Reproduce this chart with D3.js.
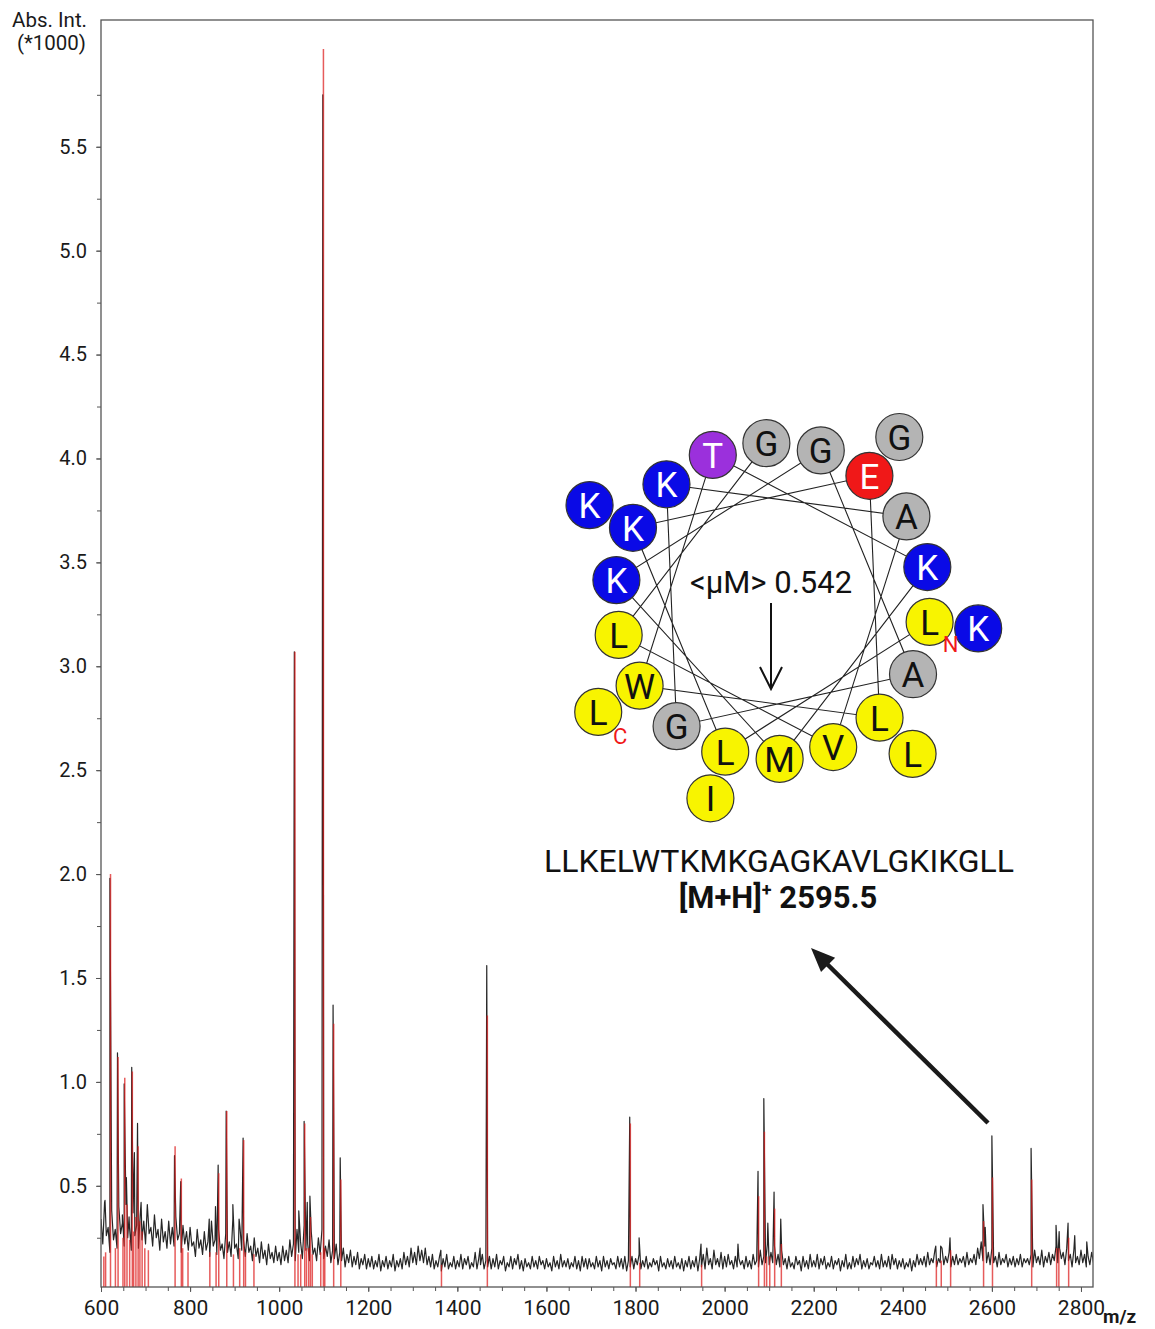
<!DOCTYPE html>
<html><head><meta charset="utf-8">
<script src="https://cdn.jsdelivr.net/npm/d3@7"></script>
<style>
html,body{margin:0;padding:0;background:#fff;}
svg{display:block;font-family:Roboto,"Liberation Sans",Arial,sans-serif;}
</style></head><body>
<svg id="chart" width="1155" height="1329"></svg>
<script>
// ---------------- DATA ----------------
const mzStart = 600, mzStep = 8;
// noise maxima of the measured spectrum (black trace), at m/z 600, 608, 616 ...
const noiseHigh = [
0.34,0.42,0.30,0.38,0.29,0.40,0.32,0.41,0.30,0.37,
0.31,0.36,0.33,0.41,0.30,0.36,0.29,0.34,0.28,0.33,
0.30,0.35,0.27,0.31,0.28,0.30,0.23,0.29,0.24,0.28,
0.23,0.33,0.24,0.29,0.22,0.27,0.23,0.34,0.22,0.30,
0.24,0.27,0.21,0.25,0.20,0.23,0.19,0.22,0.18,0.21,
0.18,0.21,0.19,0.24,0.22,0.29,0.23,0.31,0.22,0.28,
0.20,0.25,0.29,0.21,0.24,0.19,0.22,0.18,0.20,0.17,
0.19,0.16,0.18,0.15,0.17,0.15,0.16,0.14,0.17,0.14,
0.16,0.14,0.17,0.14,0.15,0.18,0.16,0.20,0.18,0.21,
0.19,0.20,0.16,0.17,0.14,0.16,0.15,0.17,0.13,0.16,
0.14,0.17,0.15,0.16,0.13,0.18,0.15,0.17,0.14,0.16,
0.15,0.17,0.14,0.16,0.13,0.16,0.15,0.17,0.14,0.15,
0.13,0.16,0.14,0.16,0.14,0.15,0.13,0.16,0.14,0.17,
0.14,0.15,0.13,0.16,0.14,0.16,0.15,0.15,0.13,0.16,
0.14,0.16,0.14,0.15,0.13,0.16,0.15,0.16,0.14,0.16,
0.15,0.17,0.14,0.16,0.13,0.15,0.14,0.16,0.13,0.15,
0.14,0.16,0.13,0.15,0.14,0.16,0.14,0.16,0.15,0.17,
0.20,0.15,0.19,0.15,0.18,0.16,0.17,0.14,0.16,0.15,
0.14,0.16,0.14,0.17,0.14,0.19,0.16,0.22,0.18,0.21,
0.17,0.19,0.15,0.16,0.13,0.16,0.14,0.16,0.14,0.17,
0.14,0.17,0.15,0.16,0.13,0.16,0.14,0.15,0.14,0.17,
0.13,0.16,0.15,0.17,0.14,0.15,0.13,0.16,0.14,0.17,
0.14,0.16,0.17,0.15,0.14,0.15,0.13,0.15,0.14,0.17,
0.15,0.16,0.18,0.15,0.19,0.15,0.20,0.16,0.18,0.16,
0.17,0.15,0.16,0.18,0.15,0.17,0.20,0.23,0.21,0.18,
0.20,0.16,0.18,0.15,0.17,0.15,0.16,0.15,0.17,0.15,
0.15,0.17,0.19,0.16,0.19,0.16,0.18,0.17,0.21,0.20,
0.18,0.20,0.17,0.19,0.16,0.19,0.17,0.16,0.18
];
// noise minima, at m/z 604, 612, 620 ...
const noiseLow = [
0.22,0.26,0.18,0.24,0.20,0.27,0.21,0.25,0.19,0.26,
0.20,0.24,0.22,0.27,0.21,0.25,0.19,0.23,0.20,0.22,
0.21,0.24,0.18,0.22,0.19,0.21,0.16,0.20,0.17,0.19,
0.16,0.21,0.17,0.19,0.15,0.18,0.16,0.20,0.15,0.19,
0.16,0.18,0.14,0.16,0.13,0.15,0.12,0.15,0.13,0.14,
0.12,0.14,0.13,0.16,0.14,0.18,0.15,0.19,0.14,0.17,
0.14,0.17,0.15,0.16,0.13,0.15,0.12,0.14,0.11,0.13,
0.11,0.12,0.10,0.12,0.10,0.11,0.10,0.11,0.09,0.11,
0.10,0.11,0.09,0.11,0.10,0.12,0.11,0.13,0.12,0.14,
0.13,0.12,0.11,0.10,0.11,0.09,0.11,0.10,0.11,0.10,
0.11,0.10,0.12,0.10,0.11,0.10,0.12,0.10,0.11,0.10,
0.11,0.10,0.12,0.09,0.11,0.10,0.12,0.10,0.09,0.11,
0.10,0.11,0.10,0.12,0.10,0.11,0.09,0.11,0.10,0.11,
0.11,0.10,0.11,0.10,0.09,0.11,0.10,0.11,0.10,0.11,
0.09,0.11,0.10,0.12,0.10,0.11,0.10,0.09,0.11,0.10,
0.12,0.10,0.11,0.10,0.11,0.12,0.09,0.11,0.10,0.11,
0.10,0.11,0.10,0.09,0.11,0.10,0.11,0.09,0.11,0.10,
0.12,0.10,0.12,0.11,0.10,0.11,0.12,0.10,0.11,0.12,
0.10,0.11,0.10,0.12,0.11,0.12,0.13,0.12,0.13,0.12,
0.11,0.12,0.10,0.11,0.10,0.12,0.09,0.11,0.10,0.11,
0.11,0.10,0.12,0.10,0.11,0.10,0.12,0.09,0.11,0.10,
0.10,0.11,0.12,0.10,0.11,0.10,0.12,0.11,0.10,0.11,
0.11,0.10,0.12,0.10,0.11,0.10,0.11,0.09,0.11,0.12,
0.12,0.11,0.12,0.13,0.11,0.13,0.12,0.13,0.11,0.12,
0.12,0.13,0.11,0.12,0.13,0.12,0.15,0.14,0.13,0.12,
0.13,0.11,0.12,0.13,0.11,0.12,0.11,0.12,0.11,0.13,
0.12,0.11,0.13,0.12,0.11,0.13,0.12,0.14,0.13,0.15,
0.12,0.14,0.11,0.13,0.12,0.13,0.11,0.12,0.13
];
// peaks of the measured spectrum (black trace)
const peakMz  = [609,620,637,648,652,657,663,669,675,682, 690,765,779,843,857,863,881,896,910,919,
                 1034,1044,1056,1063,1069,1098,1121,1137,1363,1451, 1466,1787,1808,1947,2030,2075,2088,2097,2111,2126,
                 2474,2485,2506,2580,2585,2600,2688,2744,2751,2771, 2786,2813];
const peakInt = [0.43,1.98,1.14,0.36,0.99,0.54,0.35,1.07,0.66,0.80, 0.42,0.645,0.52,0.34,0.40,0.60,0.86,0.41,0.34,0.73,
                 3.07,0.38,0.81,0.42,0.45,5.75,1.37,0.635,0.19,0.20, 1.56,0.83,0.25,0.22,0.22,0.57,0.92,0.32,0.47,0.34,
                 0.21,0.21,0.25,0.41,0.30,0.74,0.68,0.31,0.28,0.32, 0.26,0.23];
// peak list sticks (red)
const stickMz  = [605,609,620,631,637,648,652,657,663,669, 672,677,682,686,691,697,705,765,779,782,
                  794,843,857,863,881,896,910,919,923,942, 1034,1041,1047,1056,1060,1065,1069,1073,1092,1098,
                  1101,1121,1137,1363,1466,1787,1808,1947,2075,2088, 2093,2100,2111,2126,2474,2485,2506,2580,2600,2688,
                  2744,2749,2771];
const stickInt = [0.16,0.18,2.00,0.20,1.12,0.25,1.02,0.41,0.24,1.05, 0.28,0.35,0.69,0.33,0.28,0.20,0.19,0.69,0.535,0.20,
                  0.18,0.18,0.18,0.56,0.86,0.17,0.20,0.72,0.18,0.17, 3.07,0.17,0.17,0.80,0.20,0.20,0.35,0.17,0.18,5.97,
                  0.20,1.28,0.53,0.12,1.32,0.80,0.13,0.12,0.45,0.76, 0.16,0.16,0.39,0.22,0.14,0.14,0.19,0.33,0.54,0.53,
                  0.20,0.20,0.25];
const xTicks = [600,800,1000,1200,1400,1600,1800,2000,2200,2400,2600,2800];
const yTicks = [0.5,1.0,1.5,2.0,2.5,3.0,3.5,4.0,4.5,5.0,5.5];
const yLabel = ["Abs. Int.", "(*1000)"];
const xLabel = "m/z";
const sequence = "LLKELWTKMKGAGKAVLGKIKGLL";
const moment = "<μM> 0.542";
const massText = "2595.5";

// ---------------- CHART ----------------
const svg = d3.select("#chart");
const L = 101, T = 20, R = 1093, B = 1287;
const x = d3.scaleLinear().domain([600, 2827]).range([L, R]);
const y = d3.scaleLinear().domain([0.013, 6.11]).range([B, T]);

svg.append("defs").append("clipPath").attr("id","plotclip")
  .append("rect").attr("x",L).attr("y",T).attr("width",R-L).attr("height",B-T);

// black trace: noise maxima/minima merged with peak apexes
const trace = noiseHigh.map((v,i)=>({mz: mzStart + i*mzStep, v}))
  .concat(noiseLow.map((v,i)=>({mz: mzStart + mzStep/2 + i*mzStep, v})))
  .concat(peakMz.map((m,i)=>({mz:m, v:peakInt[i]})))
  .sort((a,b)=>a.mz-b.mz);

const plot = svg.append("g").attr("clip-path","url(#plotclip)");
plot.append("path").datum(trace)
  .attr("fill","none").attr("stroke","#262626").attr("stroke-width",1.2)
  .attr("stroke-linejoin","round")
  .attr("d", d3.line().x(d=>x(d.mz)).y(d=>y(d.v)));

plot.append("g").selectAll("line").data(stickMz.map((m,i)=>({mz:m,v:stickInt[i]})))
  .join("line")
  .attr("x1",d=>x(d.mz)+0.6).attr("x2",d=>x(d.mz)+0.6)
  .attr("y1",B).attr("y2",d=>y(d.v))
  .attr("stroke","#dc1c1c").attr("stroke-opacity",0.72).attr("stroke-width",1.5);

// frame
svg.append("rect").attr("x",L).attr("y",T).attr("width",R-L).attr("height",B-T)
  .attr("fill","none").attr("stroke","#555").attr("stroke-width",1.3);

// y axis
const yMinor = d3.range(0.25, 5.8, 0.25);
svg.append("g").attr("transform",`translate(${L},0)`)
  .call(d3.axisLeft(y).tickValues(yMinor).tickSize(4).tickFormat(""))
  .call(g=>g.select(".domain").remove())
  .call(g=>g.selectAll("line").attr("stroke","#555"));
svg.append("g").attr("transform",`translate(${L},0)`)
  .call(d3.axisLeft(y).tickValues(yTicks).tickSize(5).tickPadding(9).tickFormat(d3.format(".1f")))
  .call(g=>g.select(".domain").remove())
  .call(g=>g.selectAll("line").attr("stroke","#555"))
  .call(g=>g.selectAll("text").attr("font-size",20).attr("fill","#1a1a1a").attr("font-family","Roboto"));

// x axis
const xMinor = d3.range(650, 2827, 50);
svg.append("g").attr("transform",`translate(0,${B})`)
  .call(d3.axisBottom(x).tickValues(xMinor).tickSize(4).tickFormat(""))
  .call(g=>g.select(".domain").remove())
  .call(g=>g.selectAll("line").attr("stroke","#555"));
svg.append("g").attr("transform",`translate(0,${B})`)
  .call(d3.axisBottom(x).tickValues(xTicks).tickSize(5).tickPadding(8).tickFormat(d3.format("d")))
  .call(g=>g.select(".domain").remove())
  .call(g=>g.selectAll("line").attr("stroke","#555"))
  .call(g=>g.selectAll("text").attr("font-size",21).attr("fill","#1a1a1a").attr("font-family","Roboto"));

// axis titles
svg.append("text").attr("x",87).attr("y",27).attr("text-anchor","end")
  .attr("font-size",20.5).attr("fill","#1a1a1a").text(yLabel[0]);
svg.append("text").attr("x",86).attr("y",50).attr("text-anchor","end")
  .attr("font-size",20.5).attr("fill","#1a1a1a").text(yLabel[1]);
svg.append("text").attr("x",1103).attr("y",1323)
  .attr("font-size",19).attr("font-weight","bold").attr("fill","#1a1a1a").text(xLabel);

// ---------------- HELICAL WHEEL ----------------
const wc = {x:773, y:601}, rIn = 158, rOut = 207, a0 = 7.6, step = 100, rc = 23.5;
const fillOf = aa => ({K:"#0a0ae6", E:"#f01818", T:"#9b30dc", G:"#b4b4b4", A:"#b4b4b4"})[aa] || "#f8f400";
const textOf = aa => ("KET".includes(aa) ? "#fff" : "#111");
const res = sequence.split("").map((aa,i)=>{
  const ang = (a0 + step*(i%18))*Math.PI/180;
  const r = i < 18 ? rIn : rOut;
  return {aa, i, x: wc.x + r*Math.cos(ang), y: wc.y + r*Math.sin(ang)};
});
const wheel = svg.append("g");
wheel.append("path").datum(res.slice(0,18))
  .attr("fill","none").attr("stroke","#222").attr("stroke-width",1.1)
  .attr("d", d3.line().x(d=>d.x).y(d=>d.y));
const nodes = wheel.selectAll("g.res").data(res).join("g").attr("class","res")
  .attr("transform",d=>`translate(${d.x},${d.y})`);
nodes.append("circle").attr("r",rc).attr("fill",d=>fillOf(d.aa))
  .attr("stroke","#333").attr("stroke-width",1.2);
nodes.append("text").attr("text-anchor","middle").attr("dy","0.37em")
  .attr("font-family","Roboto,'Liberation Sans',Arial,sans-serif").attr("font-size",35)
  .attr("fill",d=>textOf(d.aa)).text(d=>d.aa);
// N / C termini
wheel.append("text").attr("x",res[0].x+21).attr("y",res[0].y+30).attr("text-anchor","middle")
  .attr("font-size",22).attr("fill","#f01818").text("N");
wheel.append("text").attr("x",res[23].x+22).attr("y",res[23].y+32).attr("text-anchor","middle")
  .attr("font-size",22).attr("fill","#f01818").text("C");
// moment text and arrow
wheel.append("text").attr("x",771).attr("y",593).attr("text-anchor","middle")
  .attr("font-size",31).attr("fill","#111").text(moment);
wheel.append("path").attr("d","M771,603 L771,689 M760,667 L771,689 L782,667")
  .attr("fill","none").attr("stroke","#111").attr("stroke-width",2);

// sequence and mass
svg.append("text").attr("x",779).attr("y",872).attr("text-anchor","middle")
  .attr("font-size",32).attr("fill","#111").text(sequence);
const mt = svg.append("text").attr("x",778).attr("y",908).attr("text-anchor","middle")
  .attr("font-size",31).attr("font-weight","bold").attr("fill","#111");
mt.append("tspan").text("[M+H]");
mt.append("tspan").attr("dy",-12).attr("font-size",18).text("+");
mt.append("tspan").attr("dy",12).text(" " + massText);

// big arrow
svg.append("line").attr("x1",988).attr("y1",1123).attr("x2",824).attr("y2",961)
  .attr("stroke","#1a1a1a").attr("stroke-width",4.5);
(function(){
  const tx=811, ty=948, ang=Math.atan2(1123-948, 988-811), len=24, hw=10;
  const bx=tx+len*Math.cos(ang), by=ty+len*Math.sin(ang);
  const px=-Math.sin(ang)*hw, py=Math.cos(ang)*hw;
  svg.append("path").attr("d",`M${tx},${ty} L${bx+px},${by+py} L${bx-px},${by-py} Z`).attr("fill","#1a1a1a");
})();
</script>
</body></html>
